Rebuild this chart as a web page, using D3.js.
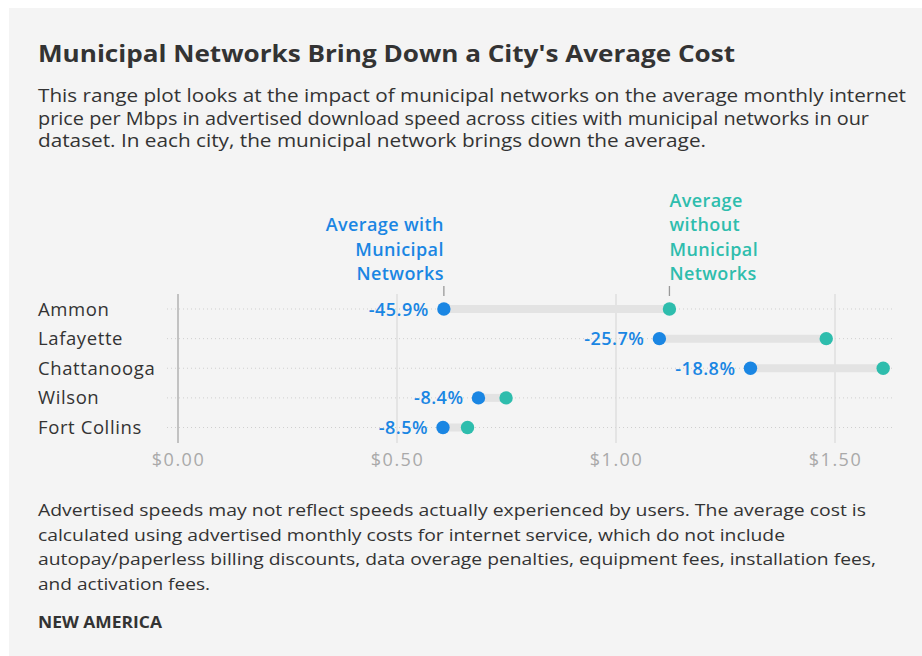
<!DOCTYPE html>
<html lang="en">
<head>
<meta charset="UTF-8">
<title>Municipal Networks</title>
<script src="https://d3js.org/d3.v7.min.js"></script>
<style>
    body { margin: 0; background: #fff; }
    svg { display: block; font-family: "Open Sans", Lato, sans-serif; }
</style>
</head>
<body>
<div id="chart"></div>
<script>
var cities = ["Ammon", "Lafayette", "Chattanooga", "Wilson", "Fort Collins"];
var withMuni = [0.607, 1.099, 1.307, 0.686, 0.605];
var withoutMuni = [1.122, 1.480, 1.610, 0.749, 0.661];
var pctChange = ["-45.9%", "-25.7%", "-18.8%", "-8.4%", "-8.5%"];
var ticks = [0, 0.5, 1, 1.5];

var subtitle = [
    "This range plot looks at the impact of municipal networks on the average monthly internet",
    "price per Mbps in advertised download speed across cities with municipal networks in our",
    "dataset. In each city, the municipal network brings down the average."
];
var notes = [
    "Advertised speeds may not reflect speeds actually experienced by users. The average cost is",
    "calculated using advertised monthly costs for internet service, which do not include",
    "autopay/paperless billing discounts, data overage penalties, equipment fees, installation fees,",
    "and activation fees."
];

var blue = "#1a86e3", teal = "#2ebdad";
var W = 922, H = 656;

var svg = d3.select("#chart").append("svg")
    .attr("width", W)
    .attr("height", H);

svg.append("rect")
    .attr("x", 9).attr("y", 8)
    .attr("width", W - 9).attr("height", H - 8)
    .attr("fill", "#f4f4f4");

// title + subtitle
svg.append("text")
    .attr("x", 38).attr("y", 62)
    .attr("textLength", 697).attr("lengthAdjust", "spacingAndGlyphs")
    .style("font-size", "23px").style("font-weight", 700).style("fill", "#333")
    .text("Municipal Networks Bring Down a City's Average Cost");

var subW = [868, 831, 668];
svg.selectAll("text.sub")
    .data(subtitle)
    .enter().append("text")
    .attr("class", "sub")
    .attr("x", 38)
    .attr("y", function(d, i) { return 102 + i * 22.5; })
    .attr("textLength", function(d, i) { return subW[i]; })
    .attr("lengthAdjust", "spacingAndGlyphs")
    .style("font-size", "17.5px").style("fill", "#333")
    .text(function(d) { return d; });

// scales
var x = d3.scaleLinear().domain([0, 1.5]).range([178, 835]);
var y = d3.scalePoint().domain(cities).range([309, 427.5]);

// horizontal dotted row lines
svg.selectAll("line.row")
    .data(cities)
    .enter().append("line")
    .attr("class", "row")
    .attr("x1", 167).attr("x2", 892)
    .attr("y1", function(d) { return y(d); })
    .attr("y2", function(d) { return y(d); })
    .attr("stroke", "#cfcfcf")
    .attr("stroke-dasharray", "1,3");

// vertical grid lines
svg.selectAll("line.grid")
    .data(ticks)
    .enter().append("line")
    .attr("class", "grid")
    .attr("x1", function(d) { return x(d); })
    .attr("x2", function(d) { return x(d); })
    .attr("y1", 294).attr("y2", 443)
    .attr("stroke", function(d) { return d === 0 ? "#a8a8a8" : "#dcdcdc"; })
    .attr("stroke-width", 1.3);

// axis labels
var axis = d3.axisBottom(x).tickValues(ticks).tickSize(0).tickPadding(0)
    .tickFormat(d3.format("$.2f"));
var ax = svg.append("g").attr("transform", "translate(0,449)").call(axis);
ax.select(".domain").remove();
ax.selectAll("text")
    .attr("dy", "0.95em")
    .style("font-family", "'Open Sans', sans-serif")
    .style("font-size", "18px").style("letter-spacing", "1.5px")
    .style("fill", "#a9a9a9");

// range bars
var rows = cities.map(function(c, i) {
    return { city: c, lo: withMuni[i], hi: withoutMuni[i], pct: pctChange[i] };
});

svg.selectAll("line.range")
    .data(rows)
    .enter().append("line")
    .attr("class", "range")
    .attr("x1", function(d) { return x(d.lo); })
    .attr("x2", function(d) { return x(d.hi); })
    .attr("y1", function(d) { return y(d.city); })
    .attr("y2", function(d) { return y(d.city); })
    .attr("stroke", "#e3e3e3")
    .attr("stroke-width", 8);

svg.selectAll("circle.hi")
    .data(rows)
    .enter().append("circle")
    .attr("class", "hi")
    .attr("cx", function(d) { return x(d.hi); })
    .attr("cy", function(d) { return y(d.city); })
    .attr("r", 6.7)
    .attr("fill", teal);

svg.selectAll("circle.lo")
    .data(rows)
    .enter().append("circle")
    .attr("class", "lo")
    .attr("cx", function(d) { return x(d.lo); })
    .attr("cy", function(d) { return y(d.city); })
    .attr("r", 6.7)
    .attr("fill", blue);

svg.selectAll("text.pct")
    .data(rows)
    .enter().append("text")
    .attr("class", "pct")
    .attr("x", function(d) { return x(d.lo) - 15; })
    .attr("y", function(d) { return y(d.city) + 6.5; })
    .attr("text-anchor", "end")
    .style("font-size", "18px").style("font-weight", 600)
    .style("letter-spacing", "0.5px").style("fill", blue)
    .text(function(d) { return d.pct; });

// city labels
svg.selectAll("text.city")
    .data(cities)
    .enter().append("text")
    .attr("class", "city")
    .attr("x", 38)
    .attr("y", function(d) { return y(d) + 6.5; })
    .style("font-size", "18.5px").style("letter-spacing", "0.6px")
    .style("fill", "#333")
    .text(function(d) { return d; });

// legend annotations on first row
var first = rows[0];
[first.lo, first.hi].forEach(function(v) {
    svg.append("line")
        .attr("x1", x(v)).attr("x2", x(v))
        .attr("y1", 286).attr("y2", 296)
        .attr("stroke", "#999").attr("stroke-width", 1.3);
});

var withLines = ["Average with", "Municipal", "Networks"];
svg.selectAll("text.legWith")
    .data(withLines)
    .enter().append("text")
    .attr("class", "legWith")
    .attr("x", x(first.lo))
    .attr("y", function(d, i) { return 231 + i * 24.5; })
    .attr("text-anchor", "end")
    .style("font-size", "18px").style("font-weight", 600)
    .style("letter-spacing", "0.4px").style("fill", blue)
    .text(function(d) { return d; });

var withoutLines = ["Average", "without", "Municipal", "Networks"];
svg.selectAll("text.legWithout")
    .data(withoutLines)
    .enter().append("text")
    .attr("class", "legWithout")
    .attr("x", x(first.hi))
    .attr("y", function(d, i) { return 206.5 + i * 24.5; })
    .style("font-size", "18px").style("font-weight", 600)
    .style("letter-spacing", "0.4px").style("fill", teal)
    .text(function(d) { return d; });

// notes
var noteW = [828, 747, 838, 172];
svg.selectAll("text.note")
    .data(notes)
    .enter().append("text")
    .attr("class", "note")
    .attr("x", 38)
    .attr("y", function(d, i) { return 516 + i * 24.5; })
    .attr("textLength", function(d, i) { return noteW[i]; })
    .attr("lengthAdjust", "spacingAndGlyphs")
    .style("font-size", "17px").style("fill", "#333")
    .text(function(d) { return d; });

svg.append("text")
    .attr("x", 38).attr("y", 628)
    .attr("textLength", 124).attr("lengthAdjust", "spacingAndGlyphs")
    .style("font-size", "15.5px").style("font-weight", 700).style("fill", "#333")
    .text("NEW AMERICA");
</script>
</body>
</html>
